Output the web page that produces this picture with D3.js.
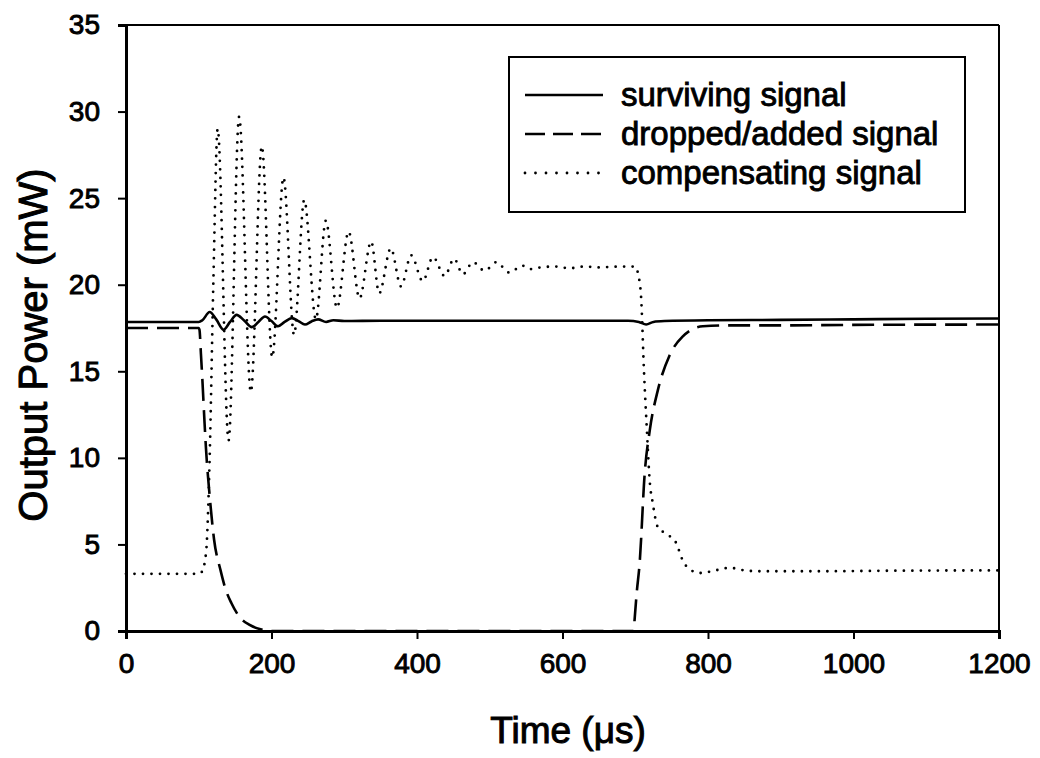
<!DOCTYPE html>
<html><head><meta charset="utf-8">
<script src="https://cdn.jsdelivr.net/npm/d3@7"></script>
<style>
html,body{margin:0;padding:0;background:#fff;}
svg text{font-family:"Liberation Sans",Arial,sans-serif;fill:#000;}
</style></head>
<body>
<svg id="chart" width="1040" height="758"></svg>
<script>
// ---- data ----
const xTicks = [0, 200, 400, 600, 800, 1000, 1200];
const yTicks = [0, 5, 10, 15, 20, 25, 30, 35];
const seriesNames = ["surviving signal", "dropped/added signal", "compensating signal"];

const survT = [0, 50, 100, 105, 115, 124, 134, 143, 152, 162, 173, 182, 191, 200, 209, 218, 228, 237, 246, 255, 264, 275, 285, 300, 350, 500, 690, 705, 715, 725, 740, 800, 900, 1000, 1100, 1200];
const survP = [17.85, 17.85, 17.85, 17.95, 18.42, 18.0, 17.4, 17.85, 18.26, 17.95, 17.55, 17.85, 18.16, 17.9, 17.6, 17.85, 18.07, 17.9, 17.7, 17.88, 18.0, 17.85, 17.95, 17.9, 17.92, 17.92, 17.92, 17.85, 17.7, 17.85, 17.9, 17.95, 17.97, 18.0, 18.03, 18.05];

const dropT = [0, 50, 100, 101, 103, 105, 108, 110, 115, 121, 130, 137, 145, 155, 170, 185, 200, 400, 698, 699, 702, 706, 713, 720, 731, 747, 765, 793, 830, 900, 1000, 1200];
const dropP = [17.5, 17.5, 17.5, 17.4, 16.0, 14.5, 12.0, 10.5, 7.8, 5.3, 3.5, 2.4, 1.6, 0.87, 0.35, 0.1, 0, 0, 0, 0.6, 2.2, 3.9, 9.1, 11.6, 13.9, 15.9, 17.0, 17.6, 17.65, 17.65, 17.68, 17.7];

const compT = [0, 50, 100, 104, 110, 115, 120, 126, 141, 155.5, 171.6, 186.7, 201, 216.5, 231, 245, 261, 274.7, 290, 306, 321, 337, 348, 364, 378, 392, 408, 422, 438, 451, 463, 477, 493, 509, 527, 545, 555, 570, 590, 610, 630, 650, 680, 700, 704, 708, 712, 716, 720, 724, 731, 743, 756, 765, 775, 790, 810, 830, 850, 870, 950, 1050, 1200];
const compP = [3.3, 3.3, 3.3, 3.4, 4.5, 10, 20, 29.0, 11.0, 29.7, 13.8, 28.0, 15.8, 26.2, 17.1, 24.9, 18.0, 23.7, 18.65, 23.07, 19.2, 22.5, 19.5, 22.1, 19.9, 21.7, 20.2, 21.6, 20.5, 21.5, 20.6, 21.3, 20.8, 21.3, 20.7, 21.1, 20.9, 21.0, 21.05, 20.95, 21.05, 21.0, 21.05, 21.05, 20.6, 19.3, 15.0, 11.6, 8.6, 7.4, 6.0, 5.6, 5.1, 4.1, 3.55, 3.35, 3.5, 3.65, 3.5, 3.45, 3.45, 3.48, 3.5];

// ---- layout ----
const L = 126, R = 999, T = 25, B = 631;
const svg = d3.select("#chart");
const x = d3.scaleLinear().domain([0, 1200]).range([L, R]);
const y = d3.scaleLinear().domain([0, 35]).range([B, T]);

const g = svg.append("g");

// lines
const line = d3.line().x(d => x(d[0])).y(d => y(d[1])).curve(d3.curveMonotoneX);
const zip = (a, b) => a.map((v, i) => [v, b[i]]);

g.append("path").datum(zip(compT, compP)).attr("d", line)
  .attr("fill", "none").attr("stroke", "#000").attr("stroke-width", 2.8)
  .attr("stroke-linecap", "round").attr("stroke-dasharray", "0,8.5");
g.append("path").datum(zip(dropT, dropP)).attr("d", line)
  .attr("fill", "none").attr("stroke", "#000").attr("stroke-width", 2.6)
  .attr("stroke-dasharray", "22,9");
g.append("path").datum(zip(survT, survP)).attr("d", line)
  .attr("fill", "none").attr("stroke", "#000").attr("stroke-width", 2.6);

// frame (top/right)
g.append("line").attr("x1", L).attr("x2", R).attr("y1", T).attr("y2", T).attr("stroke", "#000").attr("stroke-width", 2);
g.append("line").attr("x1", R).attr("x2", R).attr("y1", T).attr("y2", B).attr("stroke", "#000").attr("stroke-width", 2);

// axes (drawn over the lines)
const xAxis = g.append("g").attr("transform", `translate(0,${B})`)
  .call(d3.axisBottom(x).tickValues(xTicks).tickSize(8).tickPadding(14).tickFormat(d3.format("d")));
const yAxis = g.append("g").attr("transform", `translate(${L},0)`)
  .call(d3.axisLeft(y).tickValues(yTicks).tickSize(8).tickPadding(18).tickFormat(d3.format("d")));
[xAxis, yAxis].forEach(a => {
  a.select(".domain").attr("stroke", "#000").attr("stroke-width", 3);
  a.selectAll(".tick line").attr("stroke", "#000").attr("stroke-width", 2);
  a.selectAll(".tick text").attr("font-size", 28).attr("fill", "#000")
    .attr("stroke", "#000").attr("stroke-width", 0.9)
    .style("font-family", '"Liberation Sans",Arial,sans-serif');
});

// legend
const lg = g.append("g");
lg.append("rect").attr("x", 509).attr("y", 57).attr("width", 456).attr("height", 155)
  .attr("fill", "#fff").attr("stroke", "#000").attr("stroke-width", 2);
const styles = [
  {dash: null, cap: "butt", w: 2.6},
  {dash: "20,8", cap: "butt", w: 2.6},
  {dash: "0,10.5", cap: "round", w: 2.8}
];
seriesNames.forEach((name, i) => {
  const cy = 95 + i * 39;
  const ln = lg.append("line").attr("x1", 525).attr("x2", 603).attr("y1", cy).attr("y2", cy)
    .attr("stroke", "#000").attr("stroke-width", styles[i].w).attr("stroke-linecap", styles[i].cap);
  if (styles[i].dash) ln.attr("stroke-dasharray", styles[i].dash);
  lg.append("text").attr("x", 621).attr("y", cy + 11).attr("font-size", 33)
    .attr("stroke", "#000").attr("stroke-width", 0.9).text(name);
});

// axis titles
svg.append("text").attr("x", 568).attr("y", 743).attr("text-anchor", "middle")
  .attr("font-size", 37).attr("stroke", "#000").attr("stroke-width", 1).text("Time (μs)");
svg.append("text").attr("transform", "translate(47,345) rotate(-90)").attr("text-anchor", "middle")
  .attr("font-size", 40).attr("stroke", "#000").attr("stroke-width", 1).text("Output Power (mW)");
</script>
</body></html>
